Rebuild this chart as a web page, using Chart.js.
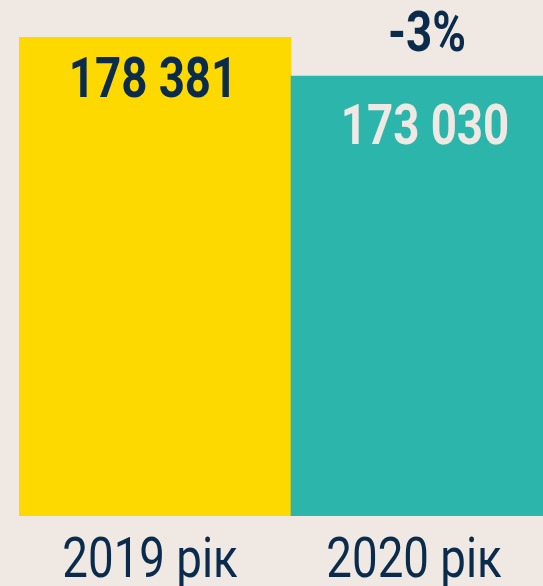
<!DOCTYPE html>
<html>
<head>
<meta charset="utf-8">
<script src="https://cdn.jsdelivr.net/npm/chart.js@4"></script>
<style>
  html, body { margin: 0; padding: 0; background: #f0e8e3; overflow: hidden; }
  #wrap { width: 563px; height: 586px; }
</style>
</head>
<body>
<div id="wrap"><canvas id="barChart" width="563" height="586"></canvas></div>
<script>
const years = ['2019 рік', '2020 рік'];
const counts = [178381, 173030];
const countLabels = ['178 381', '173 030'];
const changeLabel = '-3%';

const navy = '#0b2b4c';
const bg = '#f0e8e3';
const squeeze = 0.83; // fake a condensed face

function drawText(ctx, text, x, y) {
  ctx.save();
  ctx.translate(x, y);
  ctx.scale(squeeze, 1);
  ctx.fillText(text, 0, 0);
  ctx.restore();
}

// value text in bars, change label, and category labels under the bars
const textLayer = {
  id: 'textLayer',
  afterDatasetsDraw(chart) {
    const ctx = chart.ctx;
    const bars = chart.getDatasetMeta(0).data;
    const xScale = chart.scales.x;
    const textColors = [navy, bg];
    const offsets = [60, 68];
    const catShift = [-5, -13];
    ctx.save();
    ctx.textAlign = 'center';
    ctx.textBaseline = 'alphabetic';
    ctx.font = 'bold 55px Roboto';
    bars.forEach((bar, i) => {
      ctx.fillStyle = textColors[i];
      drawText(ctx, countLabels[i], bar.x - 2, bar.y + offsets[i]);
    });
    ctx.fillStyle = navy;
    drawText(ctx, changeLabel, bars[1].x, bars[1].y - 25);
    ctx.font = '55px Roboto';
    years.forEach((label, i) => {
      drawText(ctx, label, xScale.getPixelForValue(i) + catShift[i], chart.chartArea.bottom + 61);
    });
    ctx.restore();
  }
};

const ctx = document.getElementById('barChart').getContext('2d');
new Chart(ctx, {
  type: 'bar',
  data: {
    labels: years,
    datasets: [{
      data: counts,
      backgroundColor: ['#fdd900', '#2cb6ab'],
      barPercentage: 1,
      categoryPercentage: 1
    }]
  },
  options: {
    responsive: false,
    animation: false,
    layout: { padding: { left: 19, top: 37, right: 0, bottom: 70 } },
    plugins: {
      legend: { display: false },
      tooltip: { enabled: false }
    },
    scales: {
      y: { display: false, min: 112660, max: 178381 },
      x: { display: false }
    }
  },
  plugins: [textLayer]
});
</script>
</body>
</html>
